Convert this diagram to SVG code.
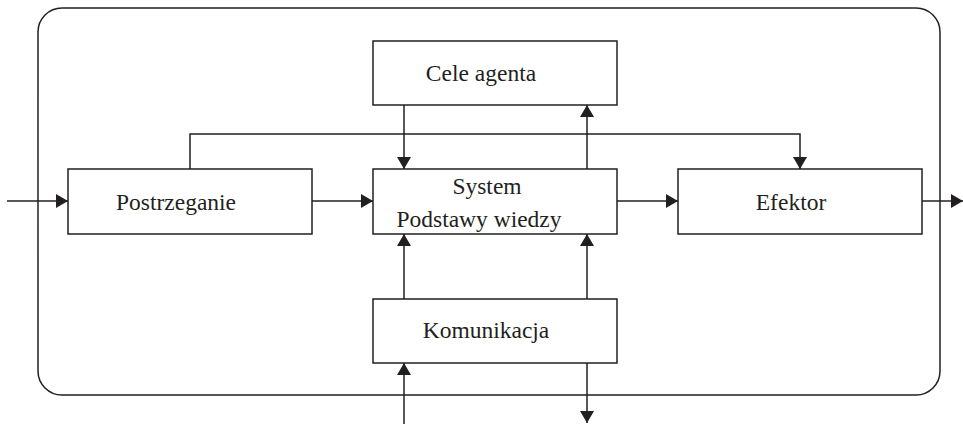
<svg xmlns="http://www.w3.org/2000/svg" width="963" height="424" viewBox="0 0 963 424">
<style>
.box{fill:#fff;stroke:#231f20;stroke-width:1.5}
.ln{fill:none;stroke:#231f20;stroke-width:1.5}
.t{font-family:"Liberation Serif","Times New Roman",serif;font-size:23.5px;fill:#231f20;text-anchor:middle}
</style>
<defs>
<marker id="ah" viewBox="0 0 12 14" refX="12" refY="7" markerWidth="12" markerHeight="14" markerUnits="userSpaceOnUse" orient="auto">
<path d="M0,0 L12,7 L0,14 Z" fill="#231f20"/>
</marker>
</defs>
<rect width="963" height="424" fill="#fff"/>
<rect x="38" y="8" width="902" height="387" rx="24" ry="24" class="ln"/>
<g id="connectors">
<path class="ln" d="M7,201 H68" marker-end="url(#ah)"/>
<path class="ln" d="M312,201 H373" marker-end="url(#ah)"/>
<path class="ln" d="M617,201 H678" marker-end="url(#ah)"/>
<path class="ln" d="M922,201 H963" marker-end="url(#ah)"/>
<path class="ln" d="M190,169 V134 H800 V169" marker-end="url(#ah)"/>
<path class="ln" d="M404,105 V169" marker-end="url(#ah)"/>
<path class="ln" d="M587,169 V105" marker-end="url(#ah)"/>
<path class="ln" d="M404,299 V234" marker-end="url(#ah)"/>
<path class="ln" d="M587,299 V234" marker-end="url(#ah)"/>
<path class="ln" d="M404,424 V363" marker-end="url(#ah)"/>
<path class="ln" d="M587,363 V423" marker-end="url(#ah)"/>
</g>
<g id="cele"><rect class="box" x="373" y="41" width="244" height="64"/><text class="t" x="481" y="81">Cele agenta</text></g>
<g id="postrzeganie"><rect class="box" x="68" y="169" width="244" height="65"/><text class="t" x="176" y="210">Postrzeganie</text></g>
<g id="system"><rect class="box" x="373" y="169" width="244" height="65"/><text class="t" x="487" y="194">System</text><text class="t" x="479" y="227">Podstawy wiedzy</text></g>
<g id="efektor"><rect class="box" x="678" y="169" width="244" height="65"/><text class="t" x="791" y="210">Efektor</text></g>
<g id="komunikacja"><rect class="box" x="373" y="299" width="244" height="64"/><text class="t" x="486" y="338">Komunikacja</text></g>
</svg>
